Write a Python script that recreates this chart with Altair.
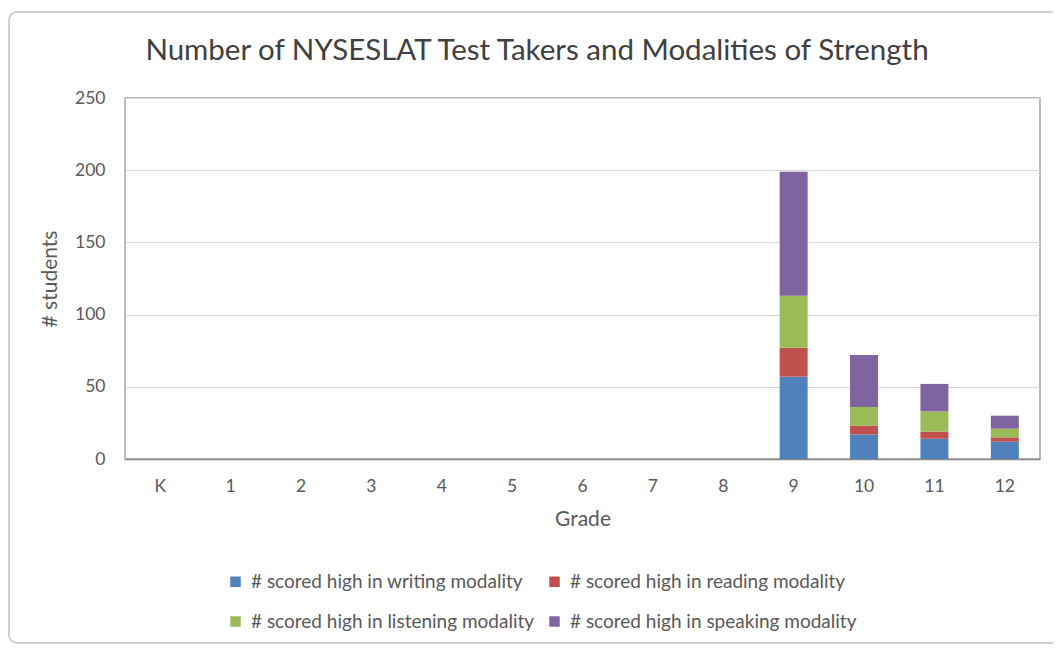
import altair as alt
import pandas as pd

title_text = "Number of NYSESLAT Test Takers and Modalities of Strength"
grades = ["K", "1", "2", "3", "4", "5", "6", "7", "8", "9", "10", "11", "12"]
series = [
    "# scored high in writing modality",
    "# scored high in reading modality",
    "# scored high in listening modality",
    "# scored high in speaking modality",
]
writing = [0, 0, 0, 0, 0, 0, 0, 0, 0, 57, 17, 14, 12]
reading = [0, 0, 0, 0, 0, 0, 0, 0, 0, 20, 6, 5, 3]
listening = [0, 0, 0, 0, 0, 0, 0, 0, 0, 36, 13, 14, 6]
speaking = [0, 0, 0, 0, 0, 0, 0, 0, 0, 86, 36, 19, 9]
colors = ["#4F81BD", "#C0504D", "#9BBB59", "#8064A2"]

rows = []
for vals, name, idx in zip([writing, reading, listening, speaking], series, range(4)):
    for g, v in zip(grades, vals):
        rows.append({"Grade": g, "Series": name, "Value": v, "Order": idx})
df = pd.DataFrame(rows)

FONT = "Lato"
TEXT = "#595959"

bars = alt.Chart(df).mark_bar(size=28).encode(
    x=alt.X("Grade:N", sort=grades, scale=alt.Scale(domain=grades, paddingInner=0, paddingOuter=0),
            axis=alt.Axis(title="Grade", labelAngle=0, ticks=False, domain=True, domainColor="#888888",
                          domainWidth=1.5, labelPadding=18, titlePadding=14, grid=False)),
    y=alt.Y("Value:Q", stack="zero", scale=alt.Scale(domain=[0, 250], nice=False),
            axis=alt.Axis(title="# students", values=[0, 50, 100, 150, 200, 250], ticks=False,
                          domain=False, labelPadding=20, titlePadding=14, gridColor="#D9D9D9")),
    color=alt.Color("Series:N", scale=alt.Scale(domain=series, range=colors),
                    legend=alt.Legend(title=None, orient="none", legendX=101, legendY=474,
                                      direction="horizontal", columns=2, symbolType="square",
                                      symbolSize=110, symbolStrokeWidth=0, labelFontSize=19,
                                      labelFont=FONT, labelColor=TEXT, columnPadding=10,
                                      rowPadding=20, labelOffset=6, labelLimit=400)),
    order=alt.Order("Order:Q", sort="ascending"),
)

one = pd.DataFrame({"t": [title_text]})

frame = alt.Chart(one).mark_rect(
    fill="white", fillOpacity=0, stroke="#D0D0D0", strokeWidth=2, cornerRadius=8, clip=False
).encode(
    x=alt.value(-116), x2=alt.value(945), y=alt.value(-86), y2=alt.value(545)
)

title = alt.Chart(one).mark_text(
    font=FONT, fontSize=29.5, color="#404040", align="center", baseline="middle"
).encode(
    text="t:N", x=alt.value(412), y=alt.value(-47)
)

chart = alt.layer(frame, bars, title).properties(
    width=915,
    height=361,
    padding={"left": 117, "top": 90, "right": 13, "bottom": 186},
    autosize=alt.AutoSizeParams(type="none"),
    background="white",
).configure_axis(
    labelFont=FONT, titleFont=FONT, labelFontSize=17.5, titleFontSize=21, labelColor=TEXT,
    titleColor=TEXT, titleFontWeight="normal",
).configure_view(
    stroke="#A6A6A6", strokeWidth=1.5,
)

chart.save("out.html", embed_options={"renderer": "svg", "actions": False})
